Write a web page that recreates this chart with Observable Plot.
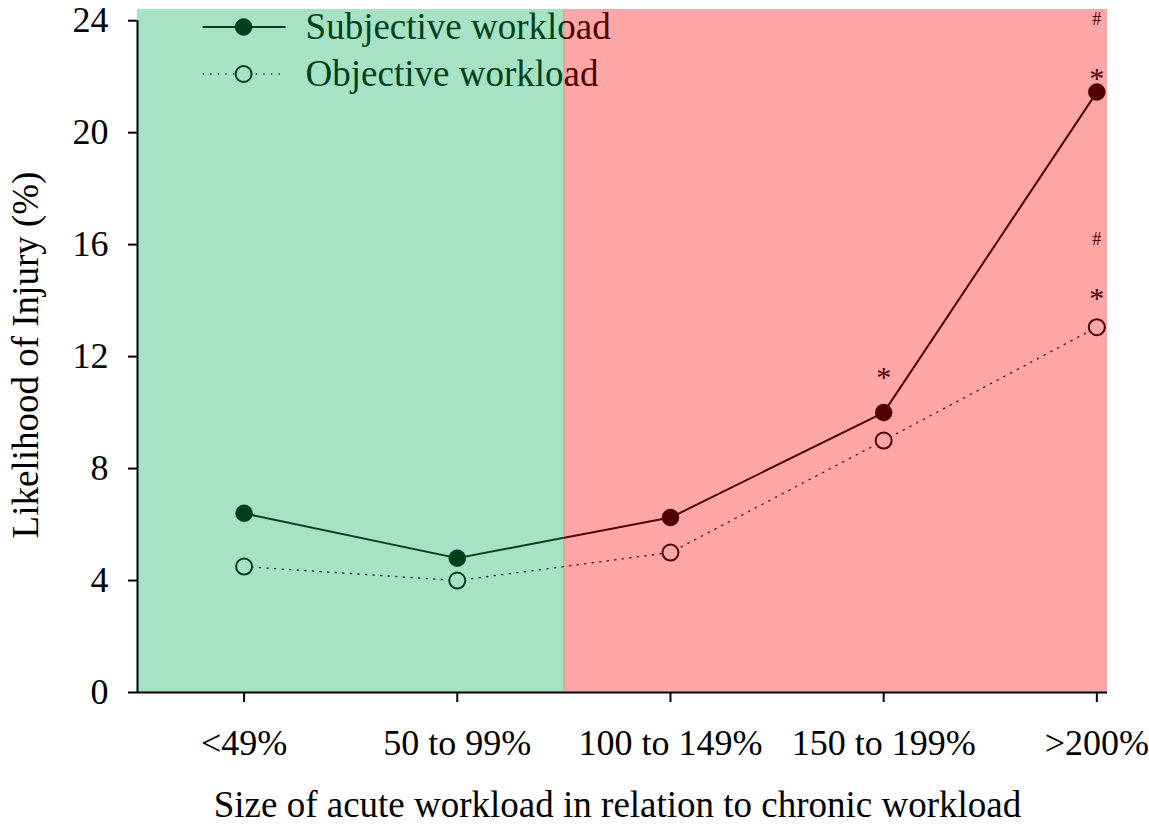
<!DOCTYPE html>
<html><head><meta charset="utf-8">
<script src="https://cdn.jsdelivr.net/npm/d3@7"></script>
<script src="https://cdn.jsdelivr.net/npm/@observablehq/plot@0.6"></script>
<style>html,body{margin:0;padding:0;background:#fff;} svg{display:block}</style>
</head><body><div id="chart"></div>
<script>
// ---- data ----
const categories = ["<49%", "50 to 99%", "100 to 149%", "150 to 199%", ">200%"];
const subjective = [6.4, 4.8, 6.25, 10.0, 21.45];
const objective  = [4.5, 4.0, 5.0, 9.0, 13.05];
const yTicks = [0, 4, 8, 12, 16, 20, 24];
const seriesNames = ["Subjective workload", "Objective workload"];
// zones: acute below chronic (green) vs above chronic (red); boundary midway between categories 2 and 3
const zoneNames = ["below", "above"];
const zoneBoundary = 1.5;
// significance markers (value = where the marker sits)
const annotCat    = [3, 4, 4, 4, 4];
const annotSymbol = ["*", "*", "#", "#", "*"];
const annotValue  = [11.45, 22.1, 24.05, 16.2, 14.25];

// ---- styling ----
const W = 1149, H = 826;
const FONT = "'Liberation Serif', 'Times New Roman', Times, serif";
const GREEN_BG = "#a6e3c4", RED_BG = "#ffa6a6";
const GREEN_FG = "#003f1c", RED_FG = "#4d0000";
const X_DOMAIN = [-0.5, 4.05];
const Y_DOMAIN = [0, 24.4];

const data = categories.map((c, i) => ({i, cat: c, subjective: subjective[i], objective: objective[i]}));
const zones = [
  {zone: zoneNames[0], x1: X_DOMAIN[0], x2: zoneBoundary},
  {zone: zoneNames[1], x1: zoneBoundary, x2: X_DOMAIN[1]}
];
const annotations = annotCat.map((c, k) => ({i: c, symbol: annotSymbol[k], value: annotValue[k]}));

function fgMarks(fg, bg, tag) {
  return [
    Plot.line(data, {x: "i", y: "objective", stroke: fg, strokeWidth: 1.3, strokeDasharray: "1.3,6.3", ariaDescription: tag}),
    Plot.line(data, {x: "i", y: "subjective", stroke: fg, strokeWidth: 2, ariaDescription: tag}),
    Plot.dot(data, {x: "i", y: "objective", r: 8, stroke: fg, strokeWidth: 2, fill: bg, ariaDescription: tag}),
    Plot.dot(data, {x: "i", y: "subjective", r: 8.5, fill: fg, stroke: fg, strokeWidth: 0.5, ariaDescription: tag}),
    Plot.text(annotations.filter(d => d.symbol === "*"), {x: "i", y: "value", text: "symbol", fill: fg, fontSize: 30, dy: 5, fontFamily: FONT, ariaDescription: tag}),
    Plot.text(annotations.filter(d => d.symbol === "#"), {x: "i", y: "value", text: "symbol", fill: fg, fontSize: 18, fontFamily: FONT, ariaDescription: tag})
  ];
}

const plot = Plot.plot({
  width: W, height: H,
  marginLeft: 137, marginRight: 42, marginTop: 9, marginBottom: 134,
  style: {fontFamily: FONT, fontSize: "36px", color: "black", background: "white", overflow: "visible"},
  x: {domain: X_DOMAIN, axis: null},
  y: {domain: Y_DOMAIN, axis: null},
  color: {domain: zoneNames, range: [GREEN_BG, RED_BG]},
  marks: [
    Plot.rect(zones, {x1: "x1", x2: "x2", y1: Y_DOMAIN[0], y2: Y_DOMAIN[1], fill: "zone"}),
    Plot.ruleX([zoneBoundary], {y1: Y_DOMAIN[0], y2: Y_DOMAIN[1], stroke: "#c49e8c", strokeWidth: 1}),
    ...fgMarks(GREEN_FG, GREEN_BG, "L"),
    ...fgMarks(RED_FG, RED_BG, "R"),
    Plot.ruleX([X_DOMAIN[0]], {y1: 0, y2: 24, stroke: "black", strokeWidth: 2}),
    Plot.ruleY([0], {stroke: "black", strokeWidth: 2}),
    Plot.axisY({ticks: yTicks, tickSize: 9, tickPadding: 20, strokeWidth: 2, fontSize: 36, label: null, tickFormat: d => d}),
    Plot.axisX({ticks: d3.range(categories.length), tickFormat: i => categories[i], tickSize: 10, tickPadding: 27, strokeWidth: 2, fontSize: 36, label: null}),
    Plot.text(["Size of acute workload in relation to chronic workload"], {frameAnchor: "bottom", lineAnchor: "middle", textAnchor: "middle", dy: 113, dx: -5, fontSize: 37, fill: "black", fontFamily: FONT}),
    Plot.text(["Likelihood of Injury (%)"], {frameAnchor: "left", lineAnchor: "middle", textAnchor: "middle", rotate: -90, dx: -111, dy: 4, fontSize: 37, fill: "black", fontFamily: FONT})
  ]
});

document.getElementById("chart").appendChild(plot);

// ---- clip the two colour versions to their zones, add legend ----
const svg = d3.select(plot);
const xs = plot.scale("x");
const bx = xs.apply(zoneBoundary);
const defs = svg.insert("defs", ":first-child");
defs.append("clipPath").attr("id", "clipL").append("rect").attr("x", 0).attr("y", 0).attr("width", bx).attr("height", H);
defs.append("clipPath").attr("id", "clipR").append("rect").attr("x", bx).attr("y", 0).attr("width", W - bx).attr("height", H);
svg.selectAll('[aria-description="L"]').attr("clip-path", "url(#clipL)");
svg.selectAll('[aria-description="R"]').attr("clip-path", "url(#clipR)");

function legend(fg, bg, clip) {
  const g = svg.append("g").attr("clip-path", `url(#${clip})`);
  const cx = xs.apply(0);
  const rows = [27, 74];
  rows.forEach((y, k) => {
    const line = g.append("line").attr("x1", cx - 41).attr("x2", cx + 42).attr("y1", y).attr("y2", y)
      .attr("stroke", fg).attr("stroke-width", k === 0 ? 2 : 1.3);
    if (k === 1) line.attr("stroke-dasharray", "1.3,6.3");
    g.append("circle").attr("cx", cx).attr("cy", y).attr("r", k === 0 ? 8.5 : 8)
      .attr("fill", k === 0 ? fg : bg).attr("stroke", fg).attr("stroke-width", k === 0 ? 0.5 : 2);
    g.append("text").attr("x", cx + 62).attr("y", y).attr("dy", "0.32em")
      .attr("text-anchor", "start")
      .attr("fill", fg).attr("font-size", 37).attr("font-family", FONT).text(seriesNames[k]);
  });
}
legend(GREEN_FG, GREEN_BG, "clipL");
legend(RED_FG, RED_BG, "clipR");
</script>
</body></html>
